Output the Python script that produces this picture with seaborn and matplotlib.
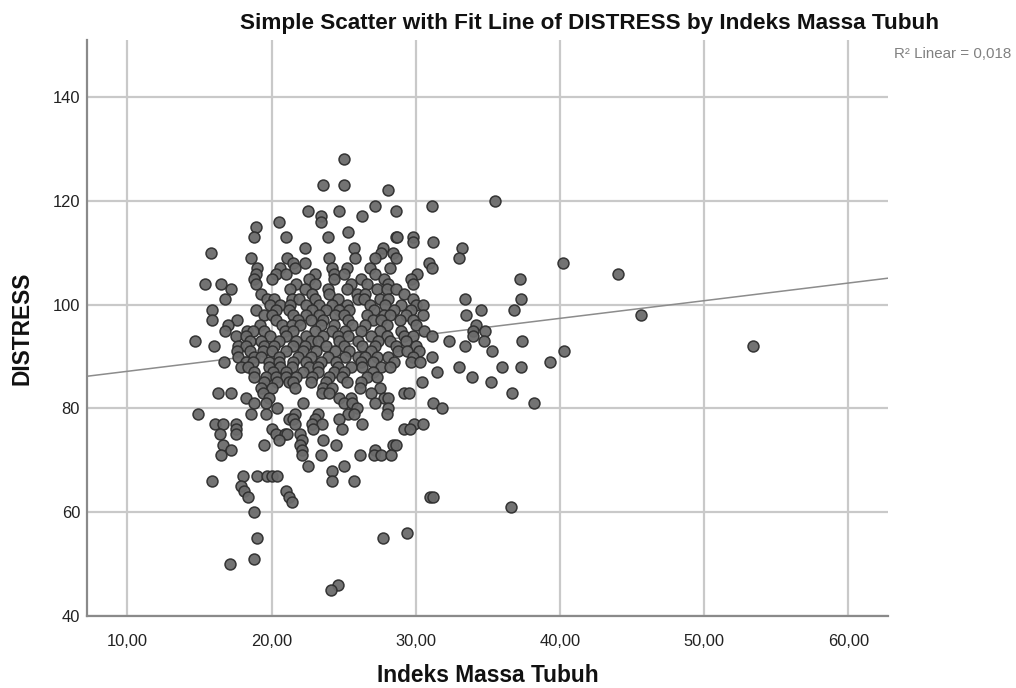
from matplotlib import pyplot as plt
import pandas as pd
import seaborn as sns

# DISTRESS value -> Indeks Massa Tubuh of the points on that row
distress_levels = [128, 123, 122, 120, 119, 118, 117, 116, 115, 114, 113, 112, 111, 110, 109, 108,
                   107, 106, 105, 104, 103, 102, 101, 100, 99, 98, 97, 96, 95, 94, 93, 92, 91, 90,
                   89, 88, 87, 86, 85, 84, 83, 82, 81, 80, 79, 78, 77, 76, 75, 74, 73, 72, 71, 69,
                   68, 67, 66, 65, 64, 63, 62, 61, 60, 56, 55, 51, 50, 46, 45]
bmi_by_level = [
    [25.0],
    [23.6, 25.0],
    [28.1],
    [35.5],
    [27.2, 31.1],
    [22.5, 24.7, 28.6],
    [23.4, 26.3],
    [20.5, 23.4],
    [18.9],
    [25.3],
    [18.8, 21.0, 23.9, 28.6, 28.7, 29.8],
    [29.8, 31.2],
    [22.3, 25.7, 27.7, 33.2],
    [15.8, 27.6, 28.4],
    [18.6, 21.1, 24.0, 25.8, 27.2, 28.6, 33.0],
    [21.5, 22.3, 30.9, 40.2],
    [19.0, 20.6, 21.6, 24.2, 25.2, 26.8, 28.2, 31.1],
    [18.9, 20.3, 21.0, 23.0, 24.3, 25.0, 27.2, 30.1, 44.0],
    [18.8, 20.0, 22.6, 24.3, 26.2, 27.8, 29.7, 37.2],
    [15.4, 16.5, 18.9, 21.7, 23.0, 25.5, 26.6, 28.1, 29.8],
    [17.2, 21.3, 22.3, 23.9, 25.2, 27.3, 28.0, 28.6],
    [19.3, 22.8, 24.0, 25.9, 26.5, 29.2],
    [16.8, 19.7, 20.2, 21.4, 21.9, 23.0, 24.6, 26.0, 26.4, 27.5, 28.1, 29.8, 33.4, 37.3],
    [19.9, 20.6, 21.3, 22.4, 23.3, 24.2, 25.2, 26.8, 27.9, 29.0, 30.0, 30.5],
    [15.9, 18.9, 20.3, 21.2, 22.8, 23.8, 24.7, 25.4, 27.1, 28.5, 29.7, 34.5, 36.8],
    [19.5, 20.0, 21.5, 22.4, 23.3, 24.4, 25.0, 26.6, 27.8, 28.2, 29.3, 30.5, 33.5, 45.6],
    [15.9, 17.6, 20.3, 21.8, 22.7, 23.6, 25.3, 27.0, 27.6, 28.9, 29.8],
    [17.0, 19.2, 20.7, 21.4, 22.0, 23.4, 24.3, 25.6, 26.5, 28.0, 30.0, 34.2],
    [16.8, 18.3, 18.7, 19.5, 20.9, 21.5, 23.0, 24.2, 25.1, 26.2, 27.5, 29.0, 30.6, 34.0, 34.8],
    [17.5, 18.2, 19.9, 21.0, 22.4, 23.6, 24.6, 25.3, 26.9, 28.0, 29.2, 29.8, 31.1, 34.0],
    [14.7, 18.5, 19.3, 20.5, 21.7, 22.7, 23.2, 24.7, 26.0, 27.4, 28.2, 29.3, 32.3, 34.7, 37.4],
    [16.0, 17.7, 18.2, 19.5, 20.2, 21.5, 22.3, 23.8, 25.0, 26.3, 27.2, 28.6, 30.0, 33.4, 53.4],
    [17.6, 18.5, 19.4, 20.0, 21.0, 22.2, 23.1, 24.4, 25.4, 26.9, 28.8, 29.4, 30.2, 35.3, 40.3],
    [17.7, 18.8, 19.3, 20.5, 21.8, 22.7, 23.9, 25.1, 26.0, 26.5, 27.3, 28.1, 29.8, 31.1],
    [16.7, 18.2, 18.7, 19.8, 20.5, 21.5, 22.4, 23.4, 24.5, 26.2, 27.0, 28.5, 29.7, 30.3, 39.3],
    [17.9, 18.4, 19.8, 20.6, 21.4, 22.6, 23.2, 24.6, 25.5, 26.3, 27.6, 28.2, 33.0, 36.0, 37.3],
    [18.8, 20.1, 21.0, 22.2, 23.2, 24.3, 25.0, 27.0, 31.5],
    [18.8, 19.6, 20.3, 21.0, 21.7, 22.8, 24.0, 24.9, 26.6, 27.3, 33.9],
    [19.5, 20.4, 21.2, 21.5, 22.7, 23.8, 25.2, 26.2, 30.4, 35.2],
    [19.3, 20.0, 21.6, 23.6, 24.2, 26.1, 27.5],
    [16.3, 17.2, 19.4, 23.5, 24.0, 26.9, 29.2, 29.5, 36.7],
    [18.2, 19.8, 24.7, 25.5, 27.8, 28.1],
    [18.8, 19.6, 22.2, 25.0, 25.6, 27.2, 31.2, 38.2],
    [20.4, 25.9, 28.1, 31.8],
    [14.9, 18.6, 19.6, 21.6, 23.2, 25.3, 25.7, 28.0],
    [21.2, 21.5, 23.0, 24.7],
    [16.1, 16.6, 17.5, 21.6, 22.8, 23.5, 26.3, 29.9, 30.5],
    [17.5, 20.0, 22.9, 24.9, 29.2, 29.6],
    [16.4, 17.5, 20.3, 20.9, 21.1, 22.0],
    [20.5, 22.1, 23.6],
    [16.6, 19.5, 22.0, 24.5, 28.4, 28.6],
    [17.2, 22.1, 27.2],
    [16.5, 22.1, 23.4, 26.1, 27.1, 27.6, 28.3],
    [22.5, 25.0],
    [24.2],
    [18.0, 19.0, 19.7, 20.0, 20.4],
    [15.9, 24.2, 25.7],
    [17.9],
    [18.1, 21.0],
    [18.4, 21.2, 31.0, 31.2],
    [21.4],
    [36.6],
    [18.8],
    [29.4],
    [19.0, 27.7],
    [18.8],
    [17.1],
    [24.6],
    [24.1],
]

# fit line ends
fit_x = [7.2, 62.75]
fit_y = [86.2, 105.1]

x_ticks = [10, 20, 30, 40, 50, 60]
x_labels = ['10,00', '20,00', '30,00', '40,00', '50,00', '60,00']
y_ticks = [40, 60, 80, 100, 120, 140]

rows = []
for level, bmis in zip(distress_levels, bmi_by_level):
    for b in bmis:
        rows.append((b, level))
df = pd.DataFrame(rows, columns=['bmi', 'distress'])

sns.set_style('white')
plt.rcParams['font.family'] = ['Liberation Sans', 'DejaVu Sans']

fig = plt.figure(figsize=(10.16, 6.88), dpi=100)
ax = fig.add_axes([87 / 1016, 1 - 616 / 688, 801 / 1016, 576 / 688])

sns.scatterplot(data=df, x='bmi', y='distress', ax=ax, s=62, color='#6b6b6b',
                edgecolor='#2e2e2e', linewidth=1.1, alpha=0.95, zorder=3, clip_on=False)
sns.lineplot(x=fit_x, y=fit_y, ax=ax, color='#8c8c8c', linewidth=1.1, zorder=2)

ax.set_xlim(7.2, 62.75)
ax.set_ylim(40, 151)
ax.set_xticks(x_ticks)
ax.set_xticklabels(x_labels)
ax.set_yticks(y_ticks)
ax.grid(True, color='#c9c9c9', linewidth=1.6)
ax.set_axisbelow(True)
ax.tick_params(axis='x', length=0, labelsize=11.9, labelcolor='#222222', pad=13)
ax.tick_params(axis='y', length=0, labelsize=11.9, labelcolor='#222222', pad=5)
for side in ['top', 'right']:
    ax.spines[side].set_visible(False)
for side in ['left', 'bottom']:
    ax.spines[side].set_color('#8a8a8a')
    ax.spines[side].set_linewidth(1.6)

ax.set_xlabel('Indeks Massa Tubuh', fontsize=16.4, fontweight='bold', labelpad=11, color='#111111')
ax.set_ylabel('DISTRESS', fontsize=16.4, fontweight='bold', labelpad=14, color='#111111')
fig.text(589 / 1016, 1 - 23 / 688, 'Simple Scatter with Fit Line of DISTRESS by Indeks Massa Tubuh',
         ha='center', va='center', fontsize=16.2, fontweight='bold', color='#111111')
fig.text(894 / 1016, 1 - 54 / 688, 'R² Linear = 0,018', ha='left', va='center',
         fontsize=10.9, color='#808080')

fig.savefig('out.png', dpi=100)
